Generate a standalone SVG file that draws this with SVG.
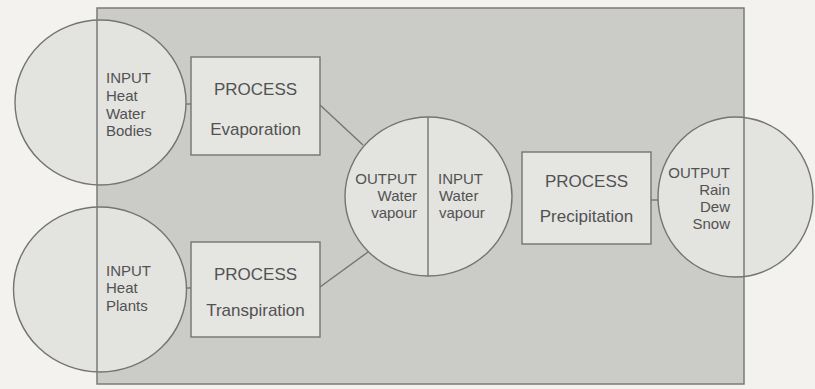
<svg xmlns="http://www.w3.org/2000/svg" width="815" height="389" viewBox="0 0 815 389">
<style>
.bg{fill:#f3f2ef}
.panel{fill:#cbcbc8}
.frame{fill:none;stroke:#7a7a7a;stroke-width:1.5}
.circ{fill:#e3e3e0;stroke:#747474;stroke-width:1.4}
.box{fill:#e5e5e2;stroke:#747474;stroke-width:1.4}
.ln{stroke:#747474;stroke-width:1.4;fill:none}
text{font-family:"Liberation Sans",Arial,sans-serif;fill:#525252}
.h{font-size:17px;text-anchor:middle}
.s{font-size:15px}
.e{text-anchor:end}
</style>
<rect class="bg" x="0" y="0" width="815" height="389"/>
<rect class="panel" x="97" y="8" width="647" height="376"/>
<g id="connectors">
<line class="ln" x1="185" y1="104" x2="191" y2="104"/>
<line class="ln" x1="186" y1="288" x2="191" y2="288"/>
<line class="ln" x1="320" y1="105" x2="363" y2="145"/>
<line class="ln" x1="320" y1="287" x2="368" y2="252"/>
<line class="ln" x1="651" y1="200" x2="658" y2="200"/>
</g>
<g id="input-water">
<ellipse class="circ" cx="100.5" cy="102.5" rx="85.5" ry="82.5"/>
</g>
<g id="input-plants">
<ellipse class="circ" cx="100" cy="289.5" rx="86.5" ry="82.5"/>
</g>
<g id="water-vapour">
<ellipse class="circ" cx="428.5" cy="196.5" rx="83.5" ry="79.5"/>
<line class="ln" x1="428" y1="117" x2="428" y2="276"/>
</g>
<g id="output-rain">
<ellipse class="circ" cx="735.5" cy="197" rx="77.5" ry="80"/>
</g>
<rect class="frame" x="97" y="8" width="647" height="376"/>
<g id="input-water-text">
<text class="s" x="106" y="83">INPUT</text>
<text class="s" x="106" y="101">Heat</text>
<text class="s" x="106" y="118.5">Water</text>
<text class="s" x="106" y="136">Bodies</text>
</g>
<g id="input-plants-text">
<text class="s" x="106" y="275.5">INPUT</text>
<text class="s" x="106" y="293">Heat</text>
<text class="s" x="106" y="310.5">Plants</text>
</g>
<g id="evaporation">
<rect class="box" x="191" y="57" width="129" height="98"/>
<text class="h" x="255.5" y="95">PROCESS</text>
<text class="h" x="255.5" y="135">Evaporation</text>
</g>
<g id="transpiration">
<rect class="box" x="191" y="242" width="129" height="95"/>
<text class="h" x="255.5" y="280">PROCESS</text>
<text class="h" x="255.5" y="316">Transpiration</text>
</g>
<g id="water-vapour-text">
<text class="s e" x="417" y="184">OUTPUT</text>
<text class="s e" x="417" y="201">Water</text>
<text class="s e" x="417" y="218">vapour</text>
<text class="s" x="438" y="184">INPUT</text>
<text class="s" x="439" y="201">Water</text>
<text class="s" x="439" y="218">vapour</text>
</g>
<g id="precipitation">
<rect class="box" x="522" y="152" width="129" height="92"/>
<text class="h" x="586.5" y="187">PROCESS</text>
<text class="h" x="586.5" y="222">Precipitation</text>
</g>
<g id="output-rain-text">
<text class="s e" x="730" y="178">OUTPUT</text>
<text class="s e" x="730" y="195">Rain</text>
<text class="s e" x="730" y="212">Dew</text>
<text class="s e" x="730" y="229">Snow</text>
</g>
</svg>
